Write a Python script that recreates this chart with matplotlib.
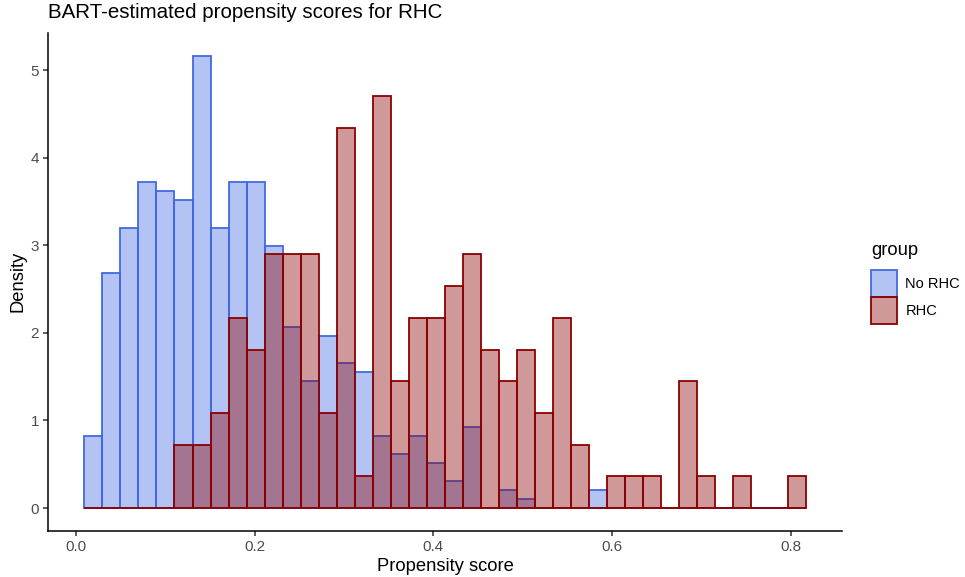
import numpy as np
import matplotlib
matplotlib.use("Agg")
import matplotlib.pyplot as plt
from matplotlib.patches import Patch

plt.rcParams['font.family'] = ['Liberation Sans', 'DejaVu Sans']

# bin layout (40 bins, ggplot-style)
bin_lo = 0.0096
bin_hi = 0.8164
n_bins = 40

# counts per bin
no_rhc_counts = [8, 26, 31, 36, 35, 34, 50, 31, 36, 36,
                 29, 20, 14, 19, 16, 15, 8, 6, 8, 5,
                 3, 9, 0, 2, 1, 0, 0, 0, 2, 0,
                 0, 0, 0, 0, 0, 0, 0, 0, 0, 0]
rhc_counts = [0, 0, 0, 0, 0, 2, 2, 3, 6, 5,
              8, 8, 8, 3, 12, 1, 13, 4, 6, 6,
              7, 8, 5, 4, 5, 3, 6, 2, 0, 1,
              1, 1, 0, 4, 1, 0, 1, 0, 0, 1]

groups = ["No RHC", "RHC"]
edge_cols = ["#4169E1", "#8B0000"]

edges = np.linspace(bin_lo, bin_hi, n_bins + 1)
centers = (edges[:-1] + edges[1:]) / 2

fig = plt.figure(figsize=(9.65, 5.77), dpi=100)
ax = fig.add_axes([48.3 / 965, 1 - 530.7 / 577, (841.7 - 48.3) / 965, (530.7 - 33) / 577])

for counts, col in zip([no_rhc_counts, rhc_counts], edge_cols):
    ax.hist(centers, bins=edges, weights=counts, density=True,
            facecolor=matplotlib.colors.to_rgba(col, 0.4), edgecolor=col, linewidth=1.3)

ax.set_xlim(-0.0307, 0.8568)
ax.set_ylim(-0.258, 5.423)
ax.set_xticks([0.0, 0.2, 0.4, 0.6, 0.8])
ax.set_xticklabels(["0.0", "0.2", "0.4", "0.6", "0.8"])
ax.set_yticks([0, 1, 2, 3, 4, 5])
for s in ["top", "right"]:
    ax.spines[s].set_visible(False)
for s in ["left", "bottom"]:
    ax.spines[s].set_linewidth(1.1)
ax.tick_params(colors="#333333", labelcolor="#4D4D4D", labelsize=11, length=3.7, width=1.1, pad=3)

ax.set_xlabel("Propensity score", fontsize=13.2, labelpad=3)
ax.set_ylabel("Density", fontsize=13.2, labelpad=3)
fig.text(48.5 / 965, 1 - 3.5 / 577, "BART-estimated propensity scores for RHC", fontsize=14.8, va="top", ha="left")

handles = [Patch(facecolor=matplotlib.colors.to_rgba(c, 0.4), edgecolor=c, linewidth=1.3) for c in edge_cols]
leg = fig.legend(handles, groups, title="group", loc="center left", bbox_to_anchor=(0.892, 0.51),
                 frameon=False, fontsize=10.5, title_fontsize=13.2, handlelength=1.8,
                 handleheight=2.45, handletextpad=0.55, labelspacing=0.0, borderpad=0.2)
leg._legend_box.align = "left"
leg._legend_box.sep = 8

fig.savefig("out.png", dpi=100)
